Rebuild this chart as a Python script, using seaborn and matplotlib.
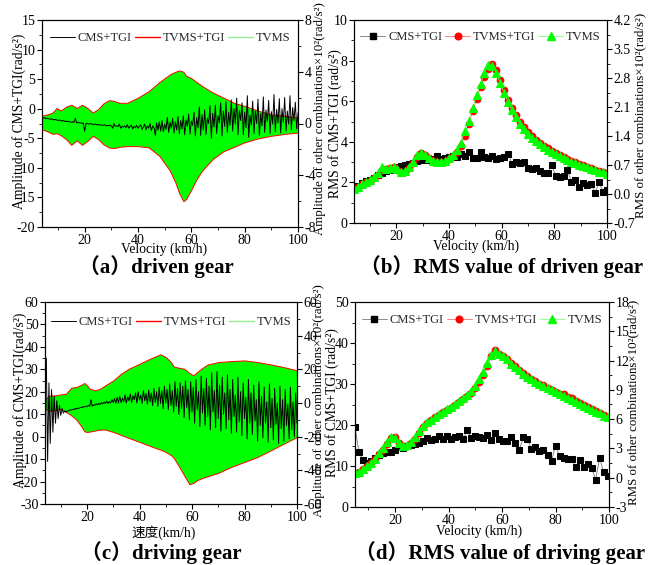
import numpy as np
import matplotlib
matplotlib.use("Agg")
import matplotlib.pyplot as plt
from matplotlib.lines import Line2D
from matplotlib.ticker import AutoMinorLocator, FormatStrFormatter
import seaborn as sns

# ---------------------------------------------------------------------------
# Data
# ---------------------------------------------------------------------------
# velocity grids (km/h)
v_amp = np.arange(4.0, 100.01, 0.5)     # CMS+TGI traces, panels (a)/(c)
v_rms_b = np.arange(4.0, 100.01, 1.5)   # panel (b)
v_rms_d = np.arange(5.0, 100.01, 1.5)   # panel (d)

# (a) driven gear - CMS+TGI amplitude, left axis (rad/s^2)
amp_a_cms = [
    -1.5, -1.6, -1.5, -1.7, -1.6, -1.7, -1.8, -1.7, -1.8, -1.9,
    -1.8, -1.9, -2.0, -1.9, -2.0, -2.1, -2.0, -2.1, -2.2, -2.1,
    -2.2, -2.2, -2.3, -2.2, -2.3, -1.6, -2.4, -2.3, -2.4, -2.4,
    -2.5, -2.4, -3.8, -2.5, -2.5, -2.6, -2.5, -2.6, -2.6, -2.7,
    -2.6, -2.7, -2.7, -2.8, -2.7, -2.8, -2.8, -2.7, -2.9, -2.8,
    -2.9, -2.8, -2.9, -3.3, -2.5, -3.0, -2.9, -3.0, -2.6, -3.3,
    -3.0, -3.1, -2.9, -3.2, -2.7, -3.3, -3.0, -2.8, -3.4, -3.0,
    -3.2, -2.8, -3.3, -3.0, -2.7, -3.5, -3.1, -2.6, -3.6, -2.9,
    -3.3, -2.5, -3.7, -2.9, -3.2, -4.5, -2.4, -3.6, -2.2, -3.8,
    -2.0, -3.9, -2.6, -3.5, -1.5, -4.0, -2.3, -3.3, -1.6, -4.1,
    -2.2, -3.6, -1.3, -4.2, -2.0, -3.4, -1.2, -4.4, -1.9, -3.0,
    -0.9, -4.3, -2.1, -2.8, -0.6, -4.6, -1.5, -3.2, 0.3, -4.5,
    -1.0, -3.6, -0.2, -4.4, -1.6, -2.5, 0.5, -5.0, -0.8, -3.1,
    0.6, -4.2, -1.2, -2.4, 1.0, -4.6, -0.4, -3.0, 1.2, -4.0,
    -0.6, -2.8, 1.5, -3.8, 0.0, -2.6, 1.8, -4.4, -0.3, -2.0,
    1.0, -4.4, -0.6, -3.2, 2.2, -4.9, -1.1, -2.8, 1.3, -4.2,
    -0.4, -2.5, 1.6, -4.5, -0.8, -2.9, 2.0, -4.0, -0.2, -2.2,
    1.4, -4.2, -0.5, -2.6, 2.4, -3.9, -0.1, -2.4, 1.7, -4.1,
    0.0, -2.3, 1.9, -3.8, -0.4, -2.6, 2.2, -3.6, 0.2, -2.0,
    1.1, -3.4, -0.7,
]
# (a) envelope of TVMS / TVMS+TGI response, right axis (x10^2 rad/s^2)
env_a_v = [4, 6, 8, 9.5, 11, 13, 15, 17, 19, 21, 23, 25, 27, 29, 31, 33, 36, 40,
           44, 48, 52, 54, 55.5, 57, 58, 60, 62, 64, 68, 72, 76, 80, 85, 90, 95, 100]
env_a_hi = [0.6, 0.7, 0.85, 1.2, 1.0, 1.3, 1.45, 1.2, 1.45, 1.2, 0.85, 1.1, 1.55, 1.8,
            1.75, 1.6, 1.6, 2.0, 2.5, 3.2, 3.8, 4.0, 4.1, 4.0, 3.7, 3.5, 3.2, 2.9,
            2.4, 2.0, 1.6, 1.35, 1.0, 0.7, 0.6, 0.45]
env_a_lo = [-0.45, -0.6, -0.8, -0.75, -0.9, -1.2, -1.65, -1.3, -1.65, -1.35, -0.95,
            -1.2, -1.6, -1.85, -1.9, -1.8, -1.75, -1.75, -1.85, -2.5, -3.65, -4.55,
            -5.4, -6.0, -5.85, -5.1, -4.3, -3.65, -2.75, -2.15, -1.8, -1.45, -1.15,
            -0.95, -0.8, -0.7]

# (b) RMS of driven gear
rms_b_cms = [
    1.70, 1.82, 1.95, 2.05, 2.12, 2.22, 2.38, 2.45, 2.55, 2.62,
    2.68, 2.75, 2.82, 2.88, 2.92, 2.98, 3.05, 3.08, 3.12, 3.08,
    3.15, 3.30, 3.15, 3.20, 3.25, 3.30, 3.25, 3.40, 3.28, 3.48,
    3.20, 3.22, 3.50, 3.25, 3.20, 3.28, 3.15, 3.18, 3.25, 3.38,
    2.92, 3.00, 2.98, 3.00, 2.72, 2.65, 2.70, 2.58, 2.45, 2.48,
    2.88, 2.30, 2.25, 2.30, 2.62, 2.00, 2.10, 1.75, 1.95, 1.85,
    1.92, 1.50, 2.00, 1.55, 1.65,
]
rms_b_tvms_tgi = [
    0.13, 0.17, 0.23, 0.28, 0.32, 0.39, 0.47, 0.57, 0.60, 0.62,
    0.64, 0.58, 0.52, 0.54, 0.62, 0.74, 0.89, 0.98, 0.94, 0.87,
    0.80, 0.77, 0.77, 0.78, 0.85, 0.91, 1.02, 1.16, 1.41, 1.68,
    2.00, 2.29, 2.58, 2.83, 3.02, 3.13, 3.00, 2.75, 2.51, 2.26,
    2.07, 1.90, 1.75, 1.61, 1.50, 1.39, 1.30, 1.23, 1.16, 1.10,
    1.04, 0.99, 0.95, 0.89, 0.85, 0.80, 0.77, 0.73, 0.69, 0.66,
    0.62, 0.59, 0.56, 0.53, 0.50,
]
rms_b_tvms = [
    0.13, 0.18, 0.24, 0.29, 0.33, 0.40, 0.50, 0.65, 0.61, 0.63,
    0.65, 0.60, 0.53, 0.55, 0.65, 0.77, 0.94, 0.99, 0.94, 0.87,
    0.79, 0.77, 0.77, 0.79, 0.87, 0.94, 1.06, 1.24, 1.51, 1.77,
    2.07, 2.39, 2.66, 2.93, 3.12, 3.10, 2.93, 2.68, 2.44, 2.22,
    2.02, 1.85, 1.70, 1.58, 1.46, 1.36, 1.27, 1.20, 1.14, 1.07,
    1.02, 0.97, 0.92, 0.87, 0.83, 0.78, 0.75, 0.71, 0.67, 0.64,
    0.60, 0.57, 0.54, 0.52, 0.49,
]

# (c) driving gear - CMS+TGI amplitude, left axis
amp_c_cms = [
    15, 35, -11, 24, -3, 21, 2, 18, 6, 16,
    8, 14, 9.5, 12.5, 10.5, 11.5, 11, 11.5, 11.5, 12,
    11.8, 12.2, 12, 12.6, 12.3, 12.8, 12.6, 13.1, 12.9, 13.4,
    13.2, 13.6, 13.3, 14.0, 13.5, 16.5, 13.6, 14.2, 14.0, 14.6,
    14.2, 14.8, 14.4, 15.2, 14.6, 15.4, 14.8, 15.8, 14.9, 15.6,
    15.0, 16.5, 15.2, 17.0, 14.8, 17.5, 15.0, 18.0, 15.2, 17.2,
    15.5, 18.6, 15.0, 17.8, 16.0, 19.0, 15.2, 18.2, 16.5, 19.5,
    15.0, 20.0, 16.2, 18.5, 14.8, 20.5, 16.0, 19.2, 14.5, 20.8,
    15.5, 19.5, 13.8, 21.5, 15.2, 20.0, 13.5, 22.0, 14.8, 20.5,
    12.5, 22.5, 15.0, 21.0, 12.0, 23.5, 14.0, 20.5, 11.0, 24.5,
    13.5, 21.5, 10.0, 24.0, 12.5, 22.5, 8.5, 25.0, 13.0, 21.0,
    7.5, 24.5, 11.0, 22.0, 6.0, 25.5, 12.0, 20.0, 4.5, 27.0,
    10.5, 21.5, 5.0, 26.0, 9.0, 22.5, 3.0, 28.5, 11.0, 20.5,
    4.0, 29.0, 8.0, 23.0, 2.5, 26.5, 10.0, 19.5, 3.5, 27.5,
    7.5, 21.0, 1.5, 25.5, 9.0, 18.5, 2.0, 26.5, 6.5, 20.0,
    0.5, 24.0, 8.0, 17.5, -1.0, 25.5, 6.0, 19.5, 1.0, 23.0,
    7.0, 16.5, -2.0, 24.5, 5.0, 18.0, -0.5, 22.0, 6.0, 15.5,
    -2.5, 23.5, 4.0, 17.0, -1.5, 21.5, 5.5, 15.0, -3.0, 22.5,
    3.5, 16.5, -2.0, 21.0, 5.0, 14.5, -1.0, 22.0, 3.0, 15.5,
    0.0, 19.5, 6.0,
]
env_c_v = [4, 6, 8, 10, 12, 14, 16, 18, 19, 20, 21, 23, 25, 27, 30, 33, 36, 40, 44,
           47, 48, 50, 52, 53, 55, 57, 59, 60.5, 62, 64, 66, 70, 75, 80, 85, 90, 95, 100]
env_c_hi = [2.6, 4.5, 4.5, 5.1, 5.5, 9.1, 9.5, 11.0, 11.9, 10.5, 8.5, 7.5, 8.5, 10.5,
            13.4, 17.4, 20.4, 23.3, 26.3, 28.3, 28.9, 27.3, 24.3, 21.7, 20.9, 20.4,
            17.8, 16.4, 18.4, 20.9, 22.9, 24.3, 24.9, 25.3, 24.3, 22.9, 21.3, 19.4]
env_c_lo = [-3.4, -4.7, -4.3, -3.4, -5.3, -7.3, -9.9, -14.2, -16.8, -17.2, -17.0,
            -16.4, -15.8, -15.8, -17.2, -19.0, -20.8, -23.1, -25.5, -27.2, -27.7,
            -29.1, -31.0, -32.5, -37.5, -43.0, -48.2, -47.5, -45.8, -44.5, -43.5,
            -41.5, -37.9, -35.0, -32.0, -28.1, -24.1, -20.2]

# (d) RMS of driving gear
rms_d_cms = [
    19.5, 13.3, 11.5, 10.8, 11.2, 12.0, 12.6, 13.2, 13.3, 13.4,
    13.8, 14.7, 14.5, 15.0, 15.2, 15.4, 15.6, 16.0, 16.8, 16.3,
    16.5, 17.4, 16.6, 17.3, 16.7, 17.0, 17.4, 16.6, 18.7, 16.8,
    17.2, 17.1, 16.8, 17.5, 16.4, 18.0, 16.6, 16.1, 16.0, 17.0,
    15.5, 14.0, 17.1, 16.5, 14.2, 14.6, 13.6, 14.0, 12.7, 11.2,
    15.0, 12.5, 12.0, 11.6, 11.7, 9.8, 11.5, 9.8, 10.5, 9.5,
    6.7, 12.0, 8.5, 7.6,
]
rms_d_tvms_tgi = [
    0.49, 0.61, 0.86, 1.18, 1.50, 1.90, 2.45, 2.88, 3.43, 4.05,
    4.12, 3.60, 3.28, 3.28, 3.55, 3.93, 4.56, 5.19, 5.62, 5.90,
    6.20, 6.45, 6.70, 6.95, 7.18, 7.46, 7.78, 8.10, 8.40, 8.72,
    9.18, 9.81, 10.52, 11.45, 12.46, 13.04, 12.71, 12.50, 12.15, 11.75,
    11.40, 11.03, 10.70, 10.40, 10.15, 9.94, 9.65, 9.45, 9.22, 9.00,
    8.80, 8.62, 8.59, 8.25, 8.17, 7.84, 7.62, 7.42, 7.20, 7.00,
    6.87, 6.62, 6.40, 6.26,
]
rms_d_tvms = [
    0.49, 0.61, 0.86, 1.20, 1.54, 1.96, 2.54, 3.09, 3.64, 4.14,
    4.10, 3.55, 3.26, 3.30, 3.64, 4.14, 4.77, 5.32, 5.69, 5.95,
    6.24, 6.49, 6.74, 7.00, 7.21, 7.50, 7.84, 8.17, 8.47, 8.89,
    9.43, 10.10, 10.86, 11.78, 12.54, 12.96, 12.67, 12.46, 12.12, 11.70,
    11.36, 10.99, 10.65, 10.36, 10.10, 9.85, 9.60, 9.39, 9.18, 8.97,
    8.76, 8.59, 8.42, 8.21, 8.00, 7.79, 7.58, 7.37, 7.16, 6.95,
    6.74, 6.58, 6.37, 6.24,
]

labels = ["CMS+TGI", "TVMS+TGI", "TVMS"]
captions = ["（a）driven gear", "（b）RMS value of driven gear",
            "（c）driving gear", "（d）RMS value of driving gear"]

GREEN = "#00ff00"
RED = "#ff0000"

# ---------------------------------------------------------------------------
sns.set_theme(style="ticks")
plt.rcParams["font.family"] = ["Liberation Serif", "Noto Sans CJK SC"]
plt.rcParams["axes.unicode_minus"] = False

W, H = 656, 565
fig = plt.figure(figsize=(W / 100, H / 100), dpi=100)


def px_axes(l, t, r, b):
    return fig.add_axes([l / W, 1 - b / H, (r - l) / W, (b - t) / H])


def ftext(x, y, s, **kw):
    fig.text(x / W, 1 - y / H, s, ha="center", va="center", **kw)


def style(ax, ax2, xlim, ylim, yticks, ylim2, yticks2, fmt2="%d"):
    ax.set_xlim(*xlim)
    ax.set_xticks([20, 40, 60, 80, 100])
    ax.set_ylim(*ylim)
    ax.set_yticks(yticks)
    ax2.set_ylim(*ylim2)
    ax2.set_yticks(yticks2)
    ax2.yaxis.set_major_formatter(FormatStrFormatter(fmt2))
    ax.xaxis.set_minor_locator(AutoMinorLocator(2))
    for a in (ax, ax2):
        a.yaxis.set_minor_locator(AutoMinorLocator(2))
        a.set_xlabel("")
        a.set_ylabel("")
        for s in a.spines.values():
            s.set_linewidth(0.8)
            s.set_color("black")
        a.tick_params(which="both", direction="out", labelsize=10, pad=1.2,
                      color="black", labelcolor="black")
        a.tick_params(which="major", length=3.5, width=0.8)
        a.tick_params(which="minor", length=2, width=0.6)
    ax.tick_params(which="both", top=False, right=False)
    ax2.tick_params(which="both", top=False, bottom=False, labelbottom=False)


LEG = dict(loc="center", ncol=3, frameon=False, fontsize=9, handlelength=2.0,
           handletextpad=0.25, columnspacing=0.2, borderaxespad=0)


def amp_panel(rect, v_env, hi, lo, cms, ylim, yticks, ylim2, yticks2, leg_y):
    ax = px_axes(*rect)
    ax2 = ax.twinx()
    ax2.fill_between(v_env, lo, hi, facecolor=GREEN, edgecolor=RED, linewidth=0.7)
    sns.lineplot(x=v_amp, y=cms, ax=ax, color="black", linewidth=0.7)
    ax.set_zorder(ax2.get_zorder() + 1)
    ax.patch.set_visible(False)
    style(ax, ax2, (4, 100), ylim, yticks, ylim2, yticks2)
    handles = [Line2D([], [], color="black", lw=0.7),
               Line2D([], [], color=RED, lw=1.0),
               Line2D([], [], color="#90ee90", lw=1.0)]
    ax.legend(handles, labels, bbox_to_anchor=(0.5, leg_y), **LEG)
    return ax, ax2


def rms_panel(rect, v, cms, tvms_tgi, tvms, xlim, ylim, yticks, ylim2, yticks2, fmt2, leg_y):
    ax = px_axes(*rect)
    ax2 = ax.twinx()
    sns.lineplot(x=v, y=cms, ax=ax, color="#777777", linewidth=0.6, marker="s",
                 markersize=4.5, markerfacecolor="black", markeredgecolor="black")
    sns.lineplot(x=v, y=tvms_tgi, ax=ax2, color="#ff7070", linewidth=0.6, marker="o",
                 markersize=4.8, markerfacecolor=RED, markeredgecolor=RED)
    sns.lineplot(x=v, y=tvms, ax=ax2, color="#80ff80", linewidth=0.6, marker="^",
                 markersize=5.2, markerfacecolor=GREEN, markeredgecolor=GREEN)
    style(ax, ax2, xlim, ylim, yticks, ylim2, yticks2, fmt2)
    handles = [
        Line2D([], [], color="#777777", lw=0.6, marker="s", ms=4.5,
               markerfacecolor="black", markeredgecolor="black"),
        Line2D([], [], color="#ff7070", lw=0.6, marker="o", ms=4.8,
               markerfacecolor=RED, markeredgecolor=RED),
        Line2D([], [], color="#80ff80", lw=0.6, marker="^", ms=5.2,
               markerfacecolor=GREEN, markeredgecolor=GREEN),
    ]
    ax2.legend(handles, labels, bbox_to_anchor=(0.5, leg_y), **LEG)
    return ax, ax2


# (a)
amp_panel((42, 20, 298, 227), env_a_v, env_a_hi, env_a_lo, amp_a_cms,
          (-20, 15), [-20, -15, -10, -5, 0, 5, 10, 15],
          (-8, 8), [-8, -4, 0, 4, 8], 0.913)
# (b)
rms_panel((354, 20, 607, 223), v_rms_b, rms_b_cms, rms_b_tvms_tgi, rms_b_tvms,
          (4, 100), (0, 10), [0, 2, 4, 6, 8, 10],
          (-0.7, 4.2), [-0.7, 0.0, 0.7, 1.4, 2.1, 2.8, 3.5, 4.2], "%.1f", 0.916)
# (c)
amp_panel((45, 302, 297, 504), env_c_v, env_c_hi, env_c_lo, amp_c_cms,
          (-30, 60), [-30, -20, -10, 0, 10, 20, 30, 40, 50, 60],
          (-60, 60), [-60, -40, -20, 0, 20, 40, 60], 0.90)
# (d)
rms_panel((355, 302, 609, 507), v_rms_d, rms_d_cms, rms_d_tvms_tgi, rms_d_tvms,
          (5, 100), (0, 50), [0, 10, 20, 30, 40, 50],
          (-3, 18), [-3, 0, 3, 6, 9, 12, 15, 18], "%d", 0.912)

# axis titles
lab_l = dict(fontsize=9.8, color="black")
lab_r = dict(fontsize=9.3, color="black")
ftext(164, 249, "Velocity (km/h)", **lab_l)
ftext(476, 246, "Velocity (km/h)", **lab_l)
ftext(164, 533, "速度(km/h)", **lab_l)
ftext(479, 531, "Velocity (km/h)", **lab_l)

ftext(19, 121, "Amplitude of CMS+TGI(rad/s²)", rotation=90, **lab_l)
ftext(320, 119, "Amplitude of other combinations×10²(rad/s²)", rotation=90, **lab_r)
ftext(335, 124, "RMS of CMS+TGI (rad/s²)", rotation=90, **lab_l)
ftext(640, 115, "RMS of other combinations×10²(rad/s²)", rotation=90, **lab_r)
ftext(20, 400, "Amplitude of CMS+TGI(rad/s²)", rotation=90, **lab_l)
ftext(319, 401, "Amplitude of other combinations×10²(rad/s²)", rotation=90, **lab_r)
ftext(332, 403, "RMS of CMS+TGI (rad/s²)", rotation=90, **lab_l)
ftext(633, 402, "RMS of other combinations×10²(rad/s²)", rotation=90, **lab_r)

# captions
cap = dict(fontsize=15, fontweight="bold", color="black")
ftext(156, 267, captions[0], **cap)
ftext(502, 267, captions[1], **cap)
ftext(161, 553, captions[2], **cap)
ftext(500, 553, captions[3], **cap)

fig.savefig("out.png", dpi=100)
